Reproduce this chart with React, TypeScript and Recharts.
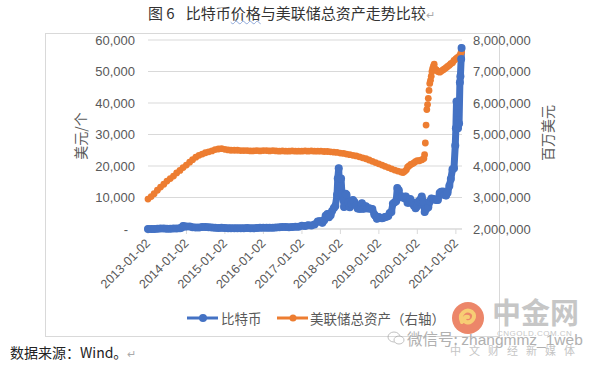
import React from 'react';
import { LineChart, Line, XAxis, YAxis, CartesianGrid, Legend } from 'recharts';

// ---------- data ----------
const BTC_DATES = [
  '2013-01-02','2013-02-01','2013-03-01','2013-04-01','2013-05-01','2013-06-01','2013-07-01','2013-08-01','2013-09-01','2013-10-01','2013-11-01','2013-11-15','2013-12-01','2013-12-15',
  '2014-01-01','2014-02-01','2014-03-01','2014-04-01','2014-05-01','2014-06-01','2014-07-01','2014-08-01','2014-09-01','2014-10-01','2014-11-01','2014-12-01',
  '2015-01-01','2015-02-01','2015-03-01','2015-04-01','2015-05-01','2015-06-01','2015-07-01','2015-08-01','2015-09-01','2015-10-01','2015-11-01','2015-12-01',
  '2016-01-01','2016-02-01','2016-03-01','2016-04-01','2016-05-01','2016-06-01','2016-07-01','2016-08-01','2016-09-01','2016-10-01','2016-11-01','2016-12-01',
  '2017-01-01','2017-02-01','2017-03-01','2017-04-01','2017-05-01','2017-06-01','2017-06-15','2017-07-01','2017-07-15','2017-08-01','2017-08-15','2017-09-01','2017-09-15','2017-10-01','2017-10-15','2017-11-01','2017-11-15','2017-12-01','2017-12-08','2017-12-17','2017-12-22',
  '2018-01-01','2018-01-08','2018-01-17','2018-02-01','2018-02-06','2018-02-20','2018-03-01','2018-03-15','2018-04-01','2018-04-15','2018-05-01','2018-05-15','2018-06-01','2018-06-15','2018-07-01','2018-07-15','2018-07-25','2018-08-10','2018-09-01','2018-09-15','2018-10-01','2018-10-15','2018-11-01','2018-11-20','2018-12-01','2018-12-15',
  '2019-01-01','2019-01-15','2019-02-01','2019-02-15','2019-03-01','2019-03-15','2019-04-01','2019-04-15','2019-05-01','2019-05-15','2019-06-01','2019-06-15','2019-06-26','2019-07-10','2019-07-20','2019-08-01','2019-08-15','2019-09-01','2019-09-15','2019-10-01','2019-10-15','2019-10-27','2019-11-15','2019-12-01','2019-12-17',
  '2020-01-01','2020-01-15','2020-02-01','2020-02-13','2020-03-01','2020-03-12','2020-03-20','2020-04-01','2020-04-15','2020-05-01','2020-05-15','2020-06-01','2020-06-15','2020-07-01','2020-07-15','2020-08-01','2020-08-15','2020-09-01','2020-09-15','2020-10-01','2020-10-15','2020-11-01','2020-11-15','2020-12-01','2020-12-15','2020-12-27',
  '2021-01-02','2021-01-08','2021-01-15','2021-01-22','2021-02-01','2021-02-09','2021-02-14','2021-02-21','2021-02-25',
];
const BTC_PRICES = [
  13,20,34,100,120,120,90,105,140,125,200,420,950,800,
  770,820,560,470,450,650,640,590,480,380,330,380,
  315,225,260,245,235,225,260,280,230,240,325,380,
  430,370,430,415,450,530,670,620,575,610,730,750,
  1000,990,1190,1080,1420,2400,2450,2500,1950,2750,4200,4750,3700,4400,5700,6700,7300,10900,16000,19300,14000,
  13500,16000,11200,9100,7000,11200,10900,8300,6900,8000,9200,8600,7500,6500,6400,6400,8200,6400,7200,6500,6600,6400,6350,4600,4100,3250,
  3800,3600,3450,3600,3800,3900,4100,5100,5400,8000,8500,8800,13000,12300,10500,10100,10300,9800,10300,8300,8300,9500,8500,7400,6600,
  7200,8800,9400,10300,8600,5400,6200,6600,6900,8800,9700,9500,9400,9200,9200,11400,11800,11900,10800,10600,11500,13700,15900,19000,19300,26500,
  32000,40500,36800,32000,33500,46500,48500,54000,57500,
];

const FED_DATES = [
  '2013-01-02','2013-02-01','2013-03-01','2013-04-01','2013-05-01','2013-06-01','2013-07-01','2013-08-01','2013-09-01','2013-10-01','2013-11-01','2013-12-01',
  '2014-01-01','2014-02-01','2014-03-01','2014-04-01','2014-05-01','2014-06-01','2014-07-01','2014-08-01','2014-09-01','2014-10-01','2014-11-01','2014-12-01',
  '2015-01-01','2015-02-01','2015-03-01','2015-04-01','2015-05-01','2015-06-01','2015-07-01','2015-08-01','2015-09-01','2015-10-01','2015-11-01','2015-12-01',
  '2016-01-01','2016-02-01','2016-03-01','2016-04-01','2016-05-01','2016-06-01','2016-07-01','2016-08-01','2016-09-01','2016-10-01','2016-11-01','2016-12-01',
  '2017-01-01','2017-02-01','2017-03-01','2017-04-01','2017-05-01','2017-06-01','2017-07-01','2017-08-01','2017-09-01','2017-10-01','2017-11-01','2017-12-01',
  '2018-01-01','2018-02-01','2018-03-01','2018-04-01','2018-05-01','2018-06-01','2018-07-01','2018-08-01','2018-09-01','2018-10-01','2018-11-01','2018-12-01',
  '2019-01-01','2019-02-01','2019-03-01','2019-04-01','2019-05-01','2019-06-01','2019-07-01','2019-08-01','2019-08-20','2019-09-05','2019-09-20','2019-10-01','2019-10-15','2019-11-01','2019-11-15','2019-12-01','2019-12-15',
  '2020-01-01','2020-01-15','2020-02-01','2020-02-15','2020-03-04','2020-03-11','2020-03-18','2020-03-25','2020-04-01','2020-04-08','2020-04-15','2020-04-22','2020-04-29','2020-05-06','2020-05-13','2020-05-20','2020-05-27','2020-06-03','2020-06-10','2020-06-17',
  '2020-07-01','2020-07-15','2020-08-01','2020-08-15','2020-09-01','2020-09-15','2020-10-01','2020-10-15','2020-11-01','2020-11-15','2020-12-01','2020-12-15',
  '2021-01-01','2021-01-15','2021-02-01','2021-02-15','2021-02-25',
];
const FED_ASSETS = [
  2950000,3030000,3120000,3230000,3330000,3420000,3520000,3600000,3680000,3780000,3860000,3950000,
  4030000,4120000,4200000,4280000,4340000,4380000,4420000,4450000,4480000,4520000,4540000,4550000,
  4530000,4510000,4500000,4500000,4500000,4490000,4490000,4490000,4480000,4480000,4490000,4480000,
  4490000,4490000,4480000,4490000,4480000,4470000,4480000,4470000,4470000,4480000,4470000,4470000,
  4470000,4480000,4470000,4480000,4470000,4470000,4470000,4460000,4460000,4450000,4440000,4430000,
  4410000,4400000,4380000,4360000,4340000,4320000,4290000,4260000,4230000,4190000,4150000,4110000,
  4070000,4030000,3990000,3950000,3910000,3870000,3840000,3810000,3790000,3830000,3880000,3960000,4000000,4050000,4070000,4100000,4140000,
  4170000,4160000,4180000,4200000,4240000,4360000,4730000,5300000,5790000,5950000,6150000,6400000,6620000,6720000,6850000,7000000,7100000,7170000,7230000,7090000,
  7050000,7000000,6980000,7010000,7050000,7080000,7120000,7160000,7200000,7250000,7280000,7350000,
  7400000,7440000,7480000,7560000,7620000,
];

const X_TICK_LABELS = ['2013-01-02','2014-01-02','2015-01-02','2016-01-02','2017-01-02','2018-01-02','2019-01-02','2020-01-02','2021-01-02'];
const LEFT_TICKS = [0, 10000, 20000, 30000, 40000, 50000, 60000];
const RIGHT_TICKS = [2000000, 3000000, 4000000, 5000000, 6000000, 7000000, 8000000];
const SERIES_NAMES = ['比特币', '美联储总资产（右轴）'];

// ---------- helpers ----------
const toT = (s: string) => Date.parse(s + 'T00:00:00Z');

type Row = { t: number; btc?: number; fed?: number };
const rowMap: Record<string, Row> = {};
BTC_DATES.forEach((d, i) => {
  rowMap[d] = { ...(rowMap[d] || { t: toT(d) }), btc: BTC_PRICES[i] };
});
FED_DATES.forEach((d, i) => {
  rowMap[d] = { ...(rowMap[d] || { t: toT(d) }), fed: FED_ASSETS[i] };
});
const chartData: Row[] = Object.values(rowMap).sort((a, b) => a.t - b.t);

const xTicks = X_TICK_LABELS.map(toT);
const X_MIN = toT('2013-01-02');
const X_MAX = toT('2021-03-01');

const fmtDate = (v: number) => new Date(v).toISOString().slice(0, 10);
const fmtNum = (v: number) => Number(v).toLocaleString('en-US');

const BLUE = '#4472C4';
const ORANGE = '#ED7D31';
const GRAY_TXT = '#595959';
const FONT = "'Liberation Sans', 'Noto Sans CJK SC', sans-serif";
const CJK = "'Noto Sans CJK SC', 'Liberation Sans', sans-serif";

const renderXTick = (props: any) => {
  const { x, y, payload } = props;
  return (
    <g transform={`translate(${x + 3},${y + 8})`}>
      <text x={0} y={0} textAnchor="end" transform="rotate(-45)" fontSize={12.5} fill={GRAY_TXT} fontFamily={FONT}>
        {fmtDate(payload.value)}
      </text>
    </g>
  );
};

const renderLeftTick = (props: any) => {
  const { x, y, payload } = props;
  const v = Number(payload.value);
  return (
    <text x={v === 0 ? x - 7 : x} y={y} dy="0.355em" textAnchor="end" fontSize={13} fill={GRAY_TXT} fontFamily={FONT}>
      {v === 0 ? '-' : fmtNum(v)}
    </text>
  );
};

const LegendContent = () => (
  <div style={{ position: 'relative', width: 600, height: 20, fontFamily: CJK, fontSize: 13.5, color: GRAY_TXT }}>
    <svg width={32} height={12} style={{ position: 'absolute', left: 187, top: 4 }}>
      <line x1={0} y1={6} x2={31} y2={6} stroke={BLUE} strokeWidth={3} />
      <circle cx={16} cy={6} r={4} fill={BLUE} />
    </svg>
    <span style={{ position: 'absolute', left: 221, top: 0, lineHeight: '20px', whiteSpace: 'nowrap' }}>{SERIES_NAMES[0]}</span>
    <svg width={32} height={12} style={{ position: 'absolute', left: 277, top: 4 }}>
      <line x1={0} y1={6} x2={31} y2={6} stroke={ORANGE} strokeWidth={3} />
      <circle cx={16} cy={6} r={3.5} fill={ORANGE} />
    </svg>
    <span style={{ position: 'absolute', left: 310, top: 0, lineHeight: '20px', whiteSpace: 'nowrap' }}>{SERIES_NAMES[1]}</span>
  </div>
);

export default function App() {
  return (
    <div style={{ position: 'absolute', left: 0, top: 0, width: 600, height: 367, background: '#fff', overflow: 'hidden' }}>
      {/* Title */}
      <div style={{ position: 'absolute', left: 148, top: 3, fontFamily: CJK, fontSize: 15, color: '#333', whiteSpace: 'nowrap', lineHeight: '20px' }}>
        <span>图 6</span>
        <span style={{ marginLeft: 11 }}>比特币</span>
        <span style={{ textDecoration: 'underline wavy #8fa8d8', textDecorationThickness: 1 }}>价格</span>
        <span>与美联储总资产走势比较</span>
        <span style={{ color: '#aaa', fontSize: 11 }}>↵</span>
      </div>

      {/* Frame */}
      <div style={{ position: 'absolute', left: 45, top: 33, width: 455, height: 304, border: '1px solid #d9d9d9', boxSizing: 'border-box' }} />

      {/* Axis titles */}
      <div style={{ position: 'absolute', left: 80, top: 136, transform: 'translate(-50%, -50%) rotate(-90deg)', fontFamily: CJK, fontSize: 14, color: GRAY_TXT, whiteSpace: 'nowrap' }}>美元/个</div>
      <div style={{ position: 'absolute', left: 547, top: 133, transform: 'translate(-50%, -50%) rotate(-90deg)', fontFamily: CJK, fontSize: 14, color: GRAY_TXT, whiteSpace: 'nowrap' }}>百万美元</div>

      <div style={{ position: 'absolute', left: 0, top: 0 }}>
        <LineChart width={600} height={367} data={chartData} margin={{ top: 40, right: 68, bottom: 78, left: 88 }}>
          <CartesianGrid yAxisId="left" vertical={false} stroke="#d9d9d9" />
          <XAxis
            dataKey="t"
            type="number"
            scale="linear"
            domain={[X_MIN, X_MAX]}
            ticks={xTicks}
            interval={0}
            height={60}
            stroke="#d9d9d9"
            tickSize={5}
            tickMargin={2}
            tick={renderXTick}
          />
          <YAxis
            yAxisId="left"
            orientation="left"
            type="number"
            domain={[0, 60000]}
            ticks={LEFT_TICKS}
            width={60}
            axisLine={false}
            tickLine={false}
            tickSize={0}
            tickMargin={13}
            tick={renderLeftTick}
          />
          <YAxis
            yAxisId="right"
            orientation="right"
            type="number"
            domain={[2000000, 8000000]}
            ticks={RIGHT_TICKS}
            width={70}
            axisLine={false}
            tickLine={false}
            tickSize={0}
            tickMargin={11}
            tickFormatter={fmtNum}
            tick={{ fontSize: 13, fill: GRAY_TXT, fontFamily: FONT }}
          />
          <Legend
            layout="horizontal"
            verticalAlign="middle"
            align="center"
            wrapperStyle={{ top: 308, left: 0, width: 600, height: 20 }}
            content={<LegendContent />}
          />
          <Line
            dataKey="fed"
            name={SERIES_NAMES[1]}
            yAxisId="right"
            stroke="none"
            strokeWidth={0}
            connectNulls
            dot={{ r: 3.4, fill: ORANGE, stroke: 'none' }}
            isAnimationActive={false}
          />
          <Line
            dataKey="btc"
            name={SERIES_NAMES[0]}
            yAxisId="left"
            stroke={BLUE}
            strokeWidth={7}
            strokeLinejoin="round"
            strokeLinecap="round"
            connectNulls
            dot={{ r: 4, fill: BLUE, stroke: 'none' }}
            isAnimationActive={false}
          />
        </LineChart>
      </div>

      {/* Footer */}
      <div style={{ position: 'absolute', left: 10, top: 342, fontFamily: CJK, fontSize: 14, color: '#222', whiteSpace: 'nowrap', lineHeight: '20px' }}>
        数据来源：Wind。<span style={{ color: '#aaa', fontSize: 11 }}>↵</span>
      </div>

      {/* Watermark */}
      <svg width={36} height={36} style={{ position: 'absolute', left: 450, top: 300, opacity: 0.85 }}>
        <circle cx={18} cy={18} r={16} fill="#E9724F" />
        <path d="M 12 22 C 8 14, 16 8, 22 12 C 27 16, 22 24, 16 22 C 13 21, 14 16, 18 17" fill="none" stroke="#F6C55C" strokeWidth={4} strokeLinecap="round" />
      </svg>
      <div style={{ position: 'absolute', left: 492, top: 294, fontFamily: CJK, fontSize: 29, fontWeight: 700, color: '#bdbdbd', opacity: 0.85, whiteSpace: 'nowrap', lineHeight: '34px' }}>中金网</div>
      <div style={{ position: 'absolute', left: 497, top: 329, fontFamily: FONT, fontSize: 8, color: '#c8c8c8', letterSpacing: 0.5, whiteSpace: 'nowrap' }}>CNGOLD.COM.CN</div>
      <svg width={18} height={16} style={{ position: 'absolute', left: 387, top: 330, opacity: 0.6 }}>
        <ellipse cx={7} cy={7} rx={6} ry={5} fill="none" stroke="#999" strokeWidth={1} />
        <ellipse cx={12} cy={10} rx={5} ry={4} fill="#fff" stroke="#999" strokeWidth={1} />
      </svg>
      <div style={{ position: 'absolute', left: 407, top: 328, fontFamily: CJK, fontSize: 15.5, color: '#b0b0b0', whiteSpace: 'nowrap', lineHeight: '20px' }}>
        微信号: <span style={{ fontFamily: FONT }}>zhangmmz_1web</span>
      </div>
      <div style={{ position: 'absolute', left: 450, top: 343, fontFamily: CJK, fontSize: 11, color: '#c5c5c5', letterSpacing: 8, whiteSpace: 'nowrap', lineHeight: '14px' }}>中文财经新媒体</div>
    </div>
  );
}
